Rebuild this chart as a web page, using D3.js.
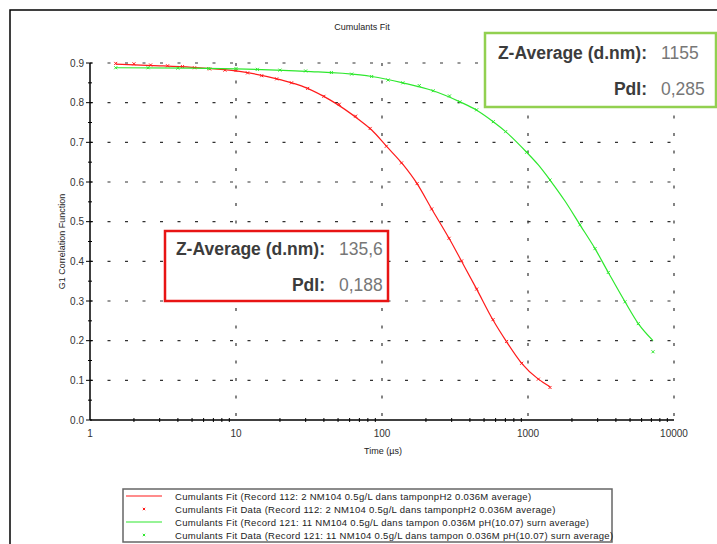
<!DOCTYPE html>
<html>
<head>
<meta charset="utf-8">
<script src="https://cdn.jsdelivr.net/npm/d3@7"></script>
<style>
  body { margin: 0; background: #fff; }
  svg { display: block; font-family: "Liberation Sans", Arial, sans-serif; }
</style>
</head>
<body>
<div id="container"></div>
<script>
// Red record (112) - fit curve and data
const redFitTime = [1.5, 3, 5, 10, 20, 30, 44, 70.7, 85, 108, 140, 173, 219, 288, 351, 445, 576, 714, 905, 1177, 1415];
const redFitG1 = [0.897, 0.893, 0.889, 0.880, 0.858, 0.838, 0.807, 0.755, 0.731, 0.689, 0.643, 0.597, 0.532, 0.458, 0.400, 0.330, 0.252, 0.197, 0.143, 0.103, 0.084];
const redDataTime = [1.5, 2.0, 2.6, 3.4, 4.3, 5.2, 6.6, 8.4, 10, 12, 15, 19, 24, 31, 40, 51, 66, 83, 107, 136, 174, 219, 288, 351, 445, 576, 714, 905, 1177, 1415];
const redDataG1 = [0.899, 0.898, 0.895, 0.893, 0.891, 0.888, 0.885, 0.882, 0.881, 0.875, 0.868, 0.860, 0.850, 0.836, 0.816, 0.796, 0.766, 0.735, 0.690, 0.648, 0.596, 0.532, 0.458, 0.401, 0.330, 0.253, 0.198, 0.143, 0.103, 0.082];

// Green record (121) - fit curve and data
const greenFitTime = [1.5, 5, 10, 30, 70.7, 85, 139, 224, 342, 445, 578, 703, 979, 1177, 1415, 1792, 2270, 2877, 3548, 4618, 5694, 7181];
const greenFitG1 = [0.888, 0.887, 0.885, 0.879, 0.870, 0.866, 0.850, 0.830, 0.802, 0.781, 0.752, 0.727, 0.675, 0.643, 0.605, 0.552, 0.492, 0.432, 0.372, 0.298, 0.243, 0.200];
const greenDataTime = [1.5, 2.5, 4, 6.5, 10, 14, 20, 30, 45, 62, 85, 110, 139, 180, 224, 290, 342, 445, 578, 703, 979, 1415, 2270, 2877, 3548, 4618, 5694, 7181];
const greenDataG1 = [0.888, 0.888, 0.887, 0.886, 0.886, 0.884, 0.882, 0.880, 0.876, 0.872, 0.866, 0.857, 0.850, 0.843, 0.830, 0.817, 0.802, 0.782, 0.752, 0.727, 0.675, 0.605, 0.492, 0.432, 0.372, 0.298, 0.243, 0.172];

// Axis ticks
const yTicks = [0.0, 0.1, 0.2, 0.3, 0.4, 0.5, 0.6, 0.7, 0.8, 0.9];
const xTicks = [1, 10, 100, 1000, 10000];

// Legend entries
const legendLabels = [
  "Cumulants Fit (Record 112: 2 NM104 0.5g/L dans tamponpH2 0.036M average)",
  "Cumulants Fit Data (Record 112: 2 NM104 0.5g/L dans tamponpH2 0.036M average)",
  "Cumulants Fit (Record 121: 11 NM104 0.5g/L dans tampon 0.036M pH(10.07) surn average)",
  "Cumulants Fit Data (Record 121: 11 NM104 0.5g/L dans tampon 0.036M pH(10.07) surn average)"
];

const RED = "#ff1a1a";
const GREEN = "#2ee82e";

const chartWidth = 717, chartHeight = 544;
const plotLeft = 90, plotRight = 674, plotTop = 63, plotBottom = 420;

const svg = d3.select('#container')
  .append('svg')
  .attr('width', chartWidth)
  .attr('height', chartHeight);

// outer frame (top and left only)
svg.append('path')
  .attr('d', 'M10,' + chartHeight + 'V10H' + chartWidth)
  .attr('fill', 'none')
  .attr('stroke', '#000')
  .attr('stroke-width', 1.5);

const x = d3.scaleLog().domain([1, 10000]).range([plotLeft, plotRight]);
const y = d3.scaleLinear().domain([0, 0.9]).range([plotBottom, plotTop]);

// gridlines
const grid = svg.append('g')
  .attr('stroke', '#333')
  .attr('stroke-width', 1.2)
  .attr('stroke-dasharray', '3,14.5');

grid.selectAll('.hgrid')
  .data(yTicks.filter(d => d > 0))
  .enter()
  .append('line')
  .attr('x1', plotLeft).attr('x2', plotRight)
  .attr('y1', d => y(d)).attr('y2', d => y(d))
  .attr('stroke-dashoffset', -17.5);

grid.selectAll('.vgrid')
  .data(xTicks.filter(d => d > 1))
  .enter()
  .append('line')
  .attr('x1', d => x(d)).attr('x2', d => x(d))
  .attr('y1', plotTop).attr('y2', plotBottom);

// axes
const axes = svg.append('g').attr('stroke', '#000').attr('stroke-width', 1.5);
axes.append('line').attr('x1', plotLeft).attr('x2', plotLeft).attr('y1', plotTop).attr('y2', plotBottom);
axes.append('line').attr('x1', plotLeft).attr('x2', plotRight).attr('y1', plotBottom).attr('y2', plotBottom);

// y ticks (major + half-step minor)
axes.selectAll('.ymaj')
  .data(yTicks)
  .enter()
  .append('line')
  .attr('x1', plotLeft - 4).attr('x2', plotLeft + 2)
  .attr('y1', d => y(d)).attr('y2', d => y(d))
  .attr('stroke-width', 1);
axes.selectAll('.ymin')
  .data(yTicks.slice(0, -1))
  .enter()
  .append('line')
  .attr('x1', plotLeft - 2).attr('x2', plotLeft + 2)
  .attr('y1', d => y(d + 0.05)).attr('y2', d => y(d + 0.05))
  .attr('stroke-width', 1);

// x minor ticks
const minor = x.ticks().filter(d => xTicks.indexOf(d) < 0);
axes.selectAll('.xmin')
  .data(minor)
  .enter()
  .append('line')
  .attr('x1', d => x(d)).attr('x2', d => x(d))
  .attr('y1', plotBottom - 2).attr('y2', plotBottom + 2)
  .attr('stroke-width', 1);

svg.append('g')
  .selectAll('text')
  .data(yTicks)
  .enter()
  .append('text')
  .attr('x', plotLeft - 6)
  .attr('y', d => y(d) + 3.5)
  .attr('text-anchor', 'end')
  .style('font-size', '10px')
  .attr('fill', '#333')
  .text(d => d.toFixed(1));

svg.append('g')
  .selectAll('text')
  .data(xTicks)
  .enter()
  .append('text')
  .attr('x', d => x(d))
  .attr('y', plotBottom + 17)
  .attr('text-anchor', 'middle')
  .style('font-size', '10px')
  .attr('fill', '#333')
  .text(d => d);

// titles
svg.append('text')
  .attr('x', 362).attr('y', 30)
  .attr('text-anchor', 'middle')
  .style('font-size', '9px')
  .attr('fill', '#222')
  .text('Cumulants Fit');

svg.append('text')
  .attr('x', 383).attr('y', 454)
  .attr('text-anchor', 'middle')
  .style('font-size', '9px')
  .attr('fill', '#222')
  .text('Time (\u00b5s)');

svg.append('text')
  .attr('transform', 'translate(65,' + ((plotTop + plotBottom) / 2) + ') rotate(-90)')
  .attr('text-anchor', 'middle')
  .style('font-size', '9px')
  .attr('fill', '#222')
  .text('G1 Correlation Function');

// curves
const line = d3.line()
  .x(d => x(d[0]))
  .y(d => y(d[1]))
  .curve(d3.curveMonotoneX);

const marker = 'M-1.5,-1.5L1.5,1.5M-1.5,1.5L1.5,-1.5';

function drawSeries(fitT, fitG, dataT, dataG, color){
  svg.append('path')
    .datum(d3.zip(fitT, fitG))
    .attr('d', line)
    .attr('fill', 'none')
    .attr('stroke', color)
    .attr('stroke-width', 1.2);
  svg.append('g')
    .selectAll('path')
    .data(d3.zip(dataT, dataG))
    .enter()
    .append('path')
    .attr('transform', d => 'translate(' + x(d[0]) + ',' + y(d[1]) + ')')
    .attr('d', marker)
    .attr('stroke', color)
    .attr('stroke-width', 1);
}

drawSeries(redFitTime, redFitG1, redDataTime, redDataG1, RED);
drawSeries(greenFitTime, greenFitG1, greenDataTime, greenDataG1, GREEN);

// result boxes
function resultBox(bx, by, bw, bh, color, z, pdi, colX, row1, row2){
  svg.append('rect')
    .attr('x', bx).attr('y', by)
    .attr('width', bw).attr('height', bh)
    .attr('fill', '#fff')
    .attr('stroke', color)
    .attr('stroke-width', 2.5);
  const rows = [['Z-Average (d.nm):', z, row1], ['PdI:', pdi, row2]];
  rows.forEach(r => {
    svg.append('text')
      .attr('x', colX).attr('y', r[2])
      .attr('text-anchor', 'end')
      .style('font-size', '17.5px')
      .style('font-weight', 'bold')
      .attr('fill', '#3c3c3c')
      .text(r[0]);
    svg.append('text')
      .attr('x', colX + 14).attr('y', r[2])
      .style('font-size', '17.5px')
      .attr('fill', '#777')
      .text(r[1]);
  });
}

resultBox(485, 33, 231, 74, '#92d050', '1155', '0,285', 647, 59, 95);
resultBox(165, 231, 223, 70, '#e81414', '135,6', '0,188', 325, 255, 291);

// legend
const lg = svg.append('g');
lg.append('rect')
  .attr('x', 123).attr('y', 489)
  .attr('width', 489).attr('height', 53)
  .attr('fill', '#fff')
  .attr('stroke', '#666')
  .attr('stroke-width', 1.5);

const legendColors = [RED, RED, GREEN, GREEN];
legendLabels.forEach((lab, i) => {
  const ly = 496 + i * 13;
  if (i % 2 === 0) {
    lg.append('line')
      .attr('x1', 126).attr('x2', 162)
      .attr('y1', ly).attr('y2', ly)
      .attr('stroke', legendColors[i])
      .attr('stroke-width', 1.2);
  } else {
    lg.append('path')
      .attr('transform', 'translate(144,' + ly + ')')
      .attr('d', 'M-1.2,-1.2L1.2,1.2M-1.2,1.2L1.2,-1.2')
      .attr('stroke', legendColors[i])
      .attr('stroke-width', 1);
  }
  lg.append('text')
    .attr('x', 175).attr('y', ly + 3.5)
    .style('font-size', '9.5px')
    .style('letter-spacing', '0.3px')
    .attr('fill', '#222')
    .text(lab);
});
</script>
</body>
</html>
